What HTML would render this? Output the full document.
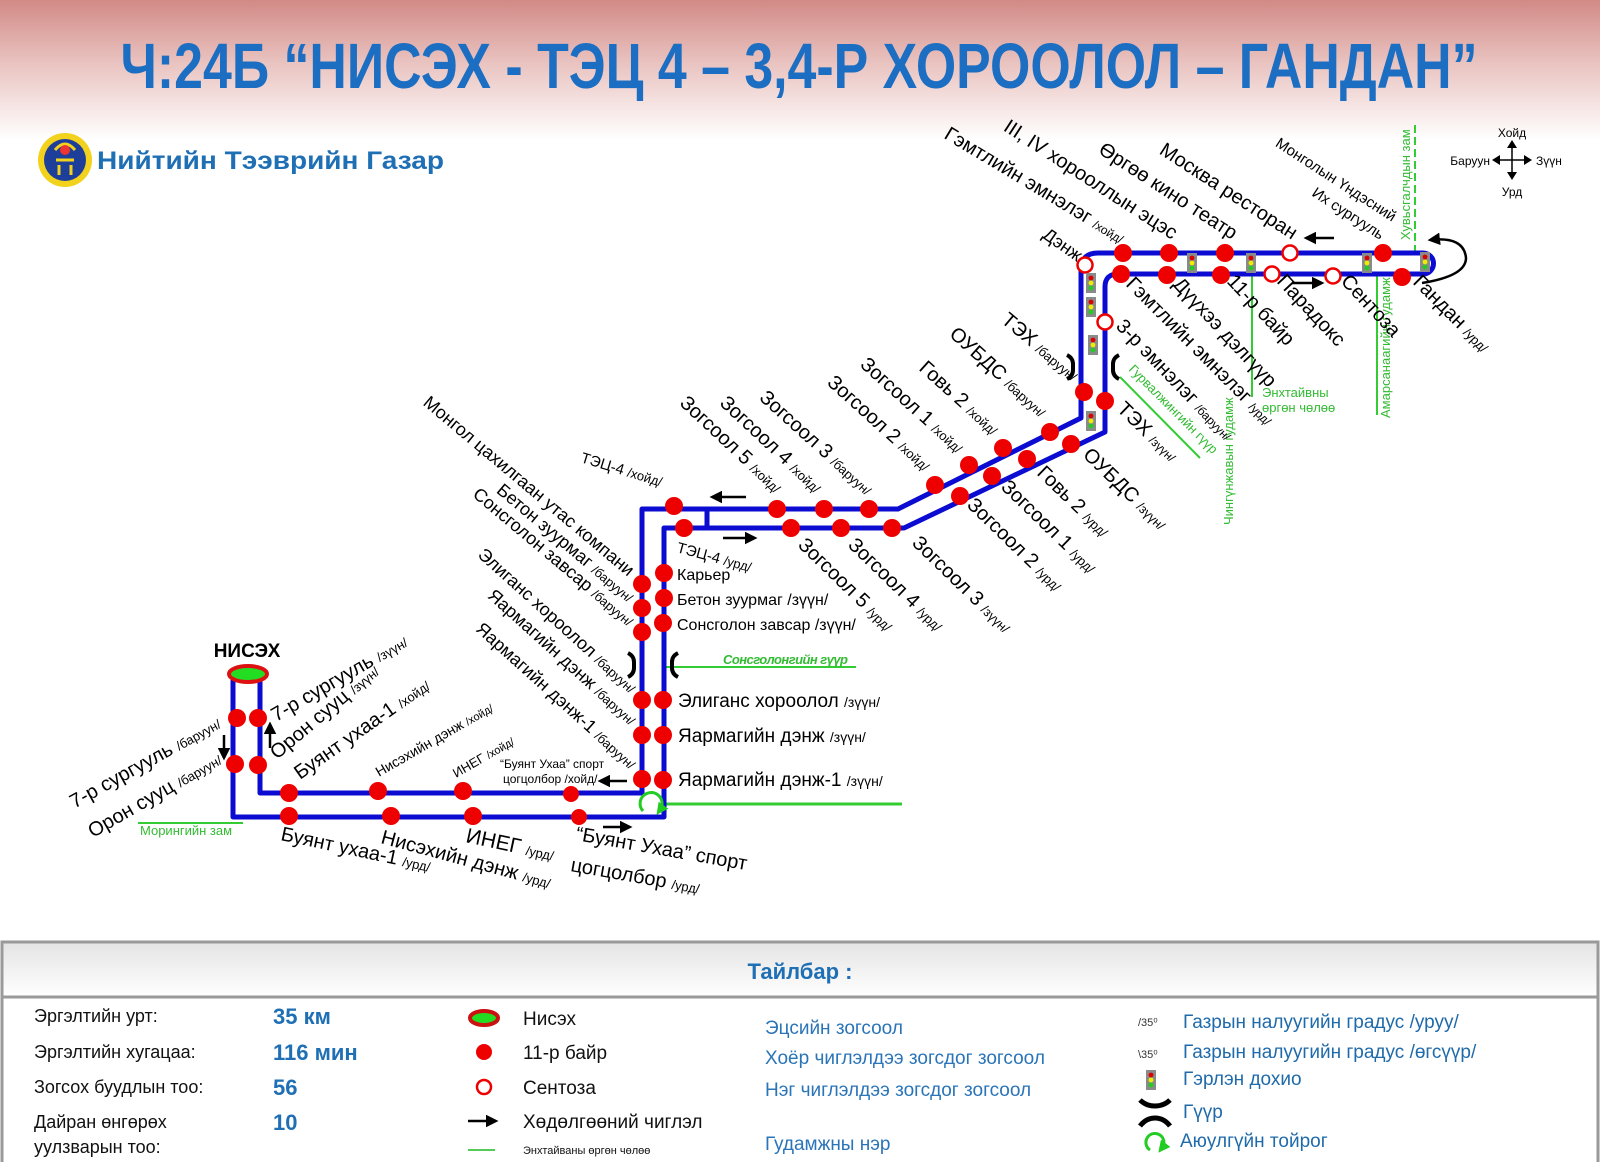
<!DOCTYPE html>
<html><head><meta charset="utf-8"><style>
html,body{margin:0;padding:0;background:#fff}
svg{display:block}
text{font-family:"Liberation Sans",Arial,sans-serif}
</style></head><body>
<svg width="1600" height="1162" viewBox="0 0 1600 1162" xmlns="http://www.w3.org/2000/svg">
<defs>
<linearGradient id="bg" x1="0" y1="0" x2="0" y2="1">
<stop offset="0" stop-color="#d28a86"/><stop offset="0.45" stop-color="#e9c3c0"/><stop offset="1" stop-color="#ffffff"/>
</linearGradient>
<linearGradient id="hd" x1="0" y1="0" x2="0" y2="1">
<stop offset="0" stop-color="#e4e4e4"/><stop offset="1" stop-color="#ffffff"/>
</linearGradient>
<marker id="ah" viewBox="0 0 10 10" refX="8" refY="5" markerWidth="5" markerHeight="5" orient="auto"><path d="M0,0 L10,5 L0,10 z" fill="#000"/></marker>
<marker id="ag" viewBox="0 0 10 10" refX="5" refY="5" markerWidth="4" markerHeight="4" orient="auto"><path d="M0,0 L10,5 L0,10 z" fill="#22cc22"/></marker>
<g id="tl"><rect x="-5" y="-10" width="10" height="20" fill="#8a8a8a"/><circle cy="-5" r="2.4" fill="#d00"/><circle cy="0" r="2.4" fill="#ee0"/><circle cy="5" r="2.4" fill="#2c2"/></g>
<g id="brL"><path d="M-9,-12 Q-3,-9 -3,-3 L-3,3 Q-3,9 -9,12" stroke="#000" stroke-width="4" fill="none"/></g>
<g id="brR"><path d="M9,-12 Q3,-9 3,-3 L3,3 Q3,9 9,12" stroke="#000" stroke-width="4" fill="none"/></g>
</defs>
<rect width="1600" height="140" fill="url(#bg)"/>
<text x="799" y="88" text-anchor="middle" font-size="64" font-weight="bold" fill="#1b6ec2" textLength="1357" lengthAdjust="spacingAndGlyphs">Ч:24Б “НИСЭХ - ТЭЦ 4 – 3,4-Р ХОРООЛОЛ – ГАНДАН”</text>
<!-- logo -->
<circle cx="65" cy="160" r="27" fill="#f2d21c"/><circle cx="65" cy="160" r="21" fill="#1d3f9a"/>
<path d="M55,150 Q65,138 75,150 M56,160 L74,160 M59,165 L59,175 M71,165 L71,175" stroke="#f2d21c" stroke-width="3" fill="none"/>
<circle cx="65" cy="150" r="5" fill="#e33"/>
<text x="97" y="169" font-size="25" font-weight="bold" fill="#1f6fb5" textLength="347" lengthAdjust="spacingAndGlyphs">Нийтийн Тээврийн Газар</text>
<!-- compass -->
<g stroke="#000" stroke-width="1.5" fill="#000">
<line x1="1512" y1="146" x2="1512" y2="174"/><line x1="1498" y1="160" x2="1526" y2="160"/>
<path d="M1512,140 l-5,8 h10z M1512,180 l-5,-8 h10z M1492,160 l8,-5 v10z M1532,160 l-8,-5 v10z" stroke="none"/>
</g>
<text x="1512" y="137" text-anchor="middle" font-size="12">Хойд</text>
<text x="1512" y="196" text-anchor="middle" font-size="12">Урд</text>
<text x="1490" y="165" text-anchor="end" font-size="12">Баруун</text>
<text x="1536" y="165" font-size="12">Зүүн</text>

<!-- green streets -->
<g stroke="#33cc33" stroke-width="2" fill="none">
<line x1="1415" y1="125" x2="1415" y2="252" stroke-dasharray="8,4"/>
<line x1="1377" y1="275" x2="1377" y2="415"/>
<line x1="1252" y1="275" x2="1252" y2="397"/>
<line x1="1120" y1="377" x2="1200" y2="458"/>
<line x1="663" y1="667" x2="856" y2="667"/>
<line x1="663" y1="804" x2="902" y2="804" stroke-width="3"/>
<line x1="138" y1="823" x2="243" y2="823"/>
</g>
<g fill="#33bb33" font-size="13">
<text transform="translate(1410,240) rotate(-90)">Хувьсгалчдын зам</text>
<text transform="translate(1390,418) rotate(-90)">Амарсанаагийн гудамж</text>
<text transform="translate(1233,525) rotate(-90)">Чингүнжавын гудамж</text>
<text x="1262" y="397" font-size="13">Энхтайвны</text>
<text x="1262" y="412" font-size="13">өргөн чөлөө</text>
<text transform="translate(1128,370) rotate(45)">Гурвалжингийн гүүр</text>
<text x="723" y="664" font-weight="bold" font-style="italic" textLength="125">Сонсголонгийн гүүр</text>
<text x="140" y="835">Морингийн зам</text>
</g>

<!-- route lines -->
<g stroke="#0b0bd2" stroke-width="5" fill="none" stroke-linejoin="round">
<path d="M260,680 L260,793 L642,793 L642,509 L898,509 L1081,418 L1081,270 Q1081,253 1098,253 L1423,253 A10.5,10.5 0 0 1 1423,274 L1118,274 Q1105,274 1105,287 L1105,432 L904,528 L664,528 L664,817 L233,817 L233,680"/>
<line x1="707" y1="509" x2="707" y2="528"/>
</g>

<!-- Nisekh terminal -->
<ellipse cx="248" cy="674" rx="19" ry="8" fill="#22dd22" stroke="#dd1111" stroke-width="4"/>
<text x="247" y="657" text-anchor="middle" font-size="19" font-weight="bold">НИСЭХ</text>

<!-- dots -->
<g fill="#ee0000">
<circle cx="1123" cy="253" r="9"/><circle cx="1169" cy="253" r="9"/><circle cx="1225" cy="253" r="9"/><circle cx="1383" cy="253" r="9"/>
<circle cx="1121" cy="274" r="9"/><circle cx="1167" cy="275" r="9"/><circle cx="1221" cy="275" r="9"/><circle cx="1402" cy="277" r="9"/>
<circle cx="1084" cy="392" r="9"/><circle cx="1105" cy="401" r="9"/>
<circle cx="1050" cy="432" r="9"/><circle cx="1003" cy="448" r="9"/><circle cx="969" cy="465" r="9"/><circle cx="935" cy="485" r="9"/>
<circle cx="1071" cy="444" r="9"/><circle cx="1027" cy="459" r="9"/><circle cx="992" cy="476" r="9"/><circle cx="960" cy="496" r="9"/>
<circle cx="869" cy="509" r="9"/><circle cx="824" cy="509" r="9"/><circle cx="777" cy="509" r="9"/><circle cx="674" cy="506" r="9"/>
<circle cx="892" cy="528" r="9"/><circle cx="841" cy="528" r="9"/><circle cx="791" cy="528" r="9"/><circle cx="684" cy="528" r="9"/>
<circle cx="642" cy="584" r="9"/><circle cx="642" cy="608" r="9"/><circle cx="642" cy="632" r="9"/>
<circle cx="664" cy="573" r="9"/><circle cx="664" cy="598" r="9"/><circle cx="663" cy="623" r="9"/>
<circle cx="642" cy="700" r="9"/><circle cx="642" cy="735" r="9"/><circle cx="642" cy="779" r="9"/>
<circle cx="663" cy="700" r="9"/><circle cx="663" cy="735" r="9"/><circle cx="663" cy="780" r="9"/>
<circle cx="289" cy="793" r="9"/><circle cx="378" cy="791" r="9"/><circle cx="463" cy="791" r="9"/><circle cx="571" cy="794" r="8"/>
<circle cx="289" cy="816" r="9"/><circle cx="391" cy="816" r="9"/><circle cx="473" cy="816" r="9"/><circle cx="579" cy="817" r="8"/>
<circle cx="237" cy="718" r="9"/><circle cx="258" cy="718" r="9"/><circle cx="235" cy="764" r="9"/><circle cx="258" cy="765" r="9"/>
</g>
<g fill="#fff" stroke="#ee0000" stroke-width="2.5">
<circle cx="1290" cy="253" r="7.5"/><circle cx="1272" cy="274" r="7.5"/><circle cx="1333" cy="276" r="7.5"/>
<circle cx="1085" cy="265" r="7.5"/><circle cx="1105" cy="322" r="7.5"/>
</g>
<!-- traffic lights -->
<use href="#tl" x="1192" y="263"/><use href="#tl" x="1251" y="263"/><use href="#tl" x="1367" y="263"/><use href="#tl" x="1425" y="262"/>
<use href="#tl" x="1091" y="283"/><use href="#tl" x="1091" y="307"/><use href="#tl" x="1093" y="345"/><use href="#tl" x="1091" y="421"/>
<!-- bridges -->
<use href="#brL" x="1076" y="367"/><use href="#brR" x="1110" y="367"/>
<use href="#brL" x="637" y="665"/><use href="#brR" x="669" y="665"/>
<!-- safety loop -->
<path d="M643,811 A11,11 0 1 1 660,810" stroke="#22cc22" stroke-width="3" fill="none" marker-end="url(#ag)"/>
<!-- arrows -->
<g stroke="#000" stroke-width="2.5" fill="none" marker-end="url(#ah)">
<line x1="1334" y1="238" x2="1306" y2="238"/>
<line x1="1292" y1="283" x2="1322" y2="283"/>
<line x1="746" y1="497" x2="712" y2="497"/>
<line x1="723" y1="538" x2="755" y2="538"/>
<line x1="627" y1="781" x2="600" y2="781"/>
<line x1="603" y1="827" x2="630" y2="827"/>
<line x1="224" y1="735" x2="224" y2="758"/>
<line x1="270" y1="748" x2="270" y2="724"/>
<path d="M1422,283 Q1466,276 1466,258 Q1464,236 1430,240"/>
</g>

<!-- labels: top row (above) -->
<g font-size="20" text-anchor="end">
<text transform="translate(1292,240) rotate(33)">Москва ресторан</text>
<text transform="translate(1232,240) rotate(33)">Өргөө кино театр</text>
<text transform="translate(1172,240) rotate(33)">III, IV хорооллын эцэс</text>
<text transform="translate(1120,244) rotate(31)">Гэмтлийн эмнэлэг <tspan font-size="12">/хойд/</tspan></text>
<text transform="translate(1077,262) rotate(35)" font-size="18">Дэнж</text>
<text transform="translate(1392,222) rotate(33)" font-size="15">Монголын Үндэсний</text>
<text transform="translate(1380,240) rotate(33)" font-size="15">Их сургууль</text>
</g>
<!-- bottom row (below) -->
<g font-size="20">
<text transform="translate(1125,285) rotate(45)">Гэмтлийн эмнэлэг <tspan font-size="12">/урд/</tspan></text>
<text transform="translate(1172,285) rotate(47)">Дүүхээ дэлгүүр</text>
<text transform="translate(1226,282) rotate(47)">11-р байр</text>
<text transform="translate(1276,282) rotate(47)">Парадокс</text>
<text transform="translate(1340,282) rotate(47)">Сентоза</text>
<text transform="translate(1412,283) rotate(45)">Гандан <tspan font-size="13">/урд/</tspan></text>
<text transform="translate(1115,327) rotate(46)">3-р эмнэлэг <tspan font-size="12">/баруун/</tspan></text>
<text transform="translate(1116,410) rotate(44)">ТЭХ <tspan font-size="12">/зүүн/</tspan></text>
<text transform="translate(1082,456) rotate(44)">ОУБДС <tspan font-size="13">/зүүн/</tspan></text>
<text transform="translate(1036,474) rotate(44)">Говь 2 <tspan font-size="13">/урд/</tspan></text>
<text transform="translate(1000,488) rotate(44)">Зогсоол 1 <tspan font-size="13">/урд/</tspan></text>
<text transform="translate(966,506) rotate(44)">Зогсоол 2 <tspan font-size="13">/урд/</tspan></text>
<text transform="translate(911,544) rotate(44)">Зогсоол 3 <tspan font-size="13">/зүүн/</tspan></text>
<text transform="translate(847,546) rotate(44)">Зогсоол 4 <tspan font-size="13">/урд/</tspan></text>
<text transform="translate(797,546) rotate(44)">Зогсоол 5 <tspan font-size="13">/урд/</tspan></text>
</g>
<!-- upper diagonal labels (above, end anchored) -->
<g font-size="20" text-anchor="end">
<text transform="translate(1072,382) rotate(40)">ТЭХ <tspan font-size="13">/баруун/</tspan></text>
<text transform="translate(1040,418) rotate(42)">ОУБДС <tspan font-size="13">/баруун/</tspan></text>
<text transform="translate(992,436) rotate(42)">Говь 2 <tspan font-size="13">/хойд/</tspan></text>
<text transform="translate(957,454) rotate(42)">Зогсоол 1 <tspan font-size="13">/хойд/</tspan></text>
<text transform="translate(924,472) rotate(42)">Зогсоол 2 <tspan font-size="13">/хойд/</tspan></text>
<text transform="translate(866,496) rotate(42)">Зогсоол 3 <tspan font-size="13">/баруун/</tspan></text>
<text transform="translate(815,494) rotate(43)">Зогсоол 4 <tspan font-size="13">/хойд/</tspan></text>
<text transform="translate(775,494) rotate(43)">Зогсоол 5 <tspan font-size="13">/хойд/</tspan></text>
</g>
<text transform="translate(580,462) rotate(17)" font-size="15">ТЭЦ-4 <tspan font-size="13">/хойд/</tspan></text>
<text transform="translate(676,552) rotate(15)" font-size="15">ТЭЦ-4 <tspan font-size="13">/урд/</tspan></text>
<!-- left column labels -->
<g font-size="18" text-anchor="end">
<text transform="translate(628,577) rotate(40)">Монгол цахилгаан утас компани</text>
<text transform="translate(628,603) rotate(40)">Бетон зуурмаг <tspan font-size="13">/баруун/</tspan></text>
<text transform="translate(628,627) rotate(40)">Сонсголон завсар <tspan font-size="13">/баруун/</tspan></text>
<text transform="translate(630,694) rotate(42)">Элиганс хороолол <tspan font-size="13">/баруун/</tspan></text>
<text transform="translate(630,726) rotate(42)">Яармагийн дэнж <tspan font-size="13">/баруун/</tspan></text>
<text transform="translate(630,770) rotate(42)">Яармагийн дэнж-1 <tspan font-size="13">/баруун/</tspan></text>
</g>
<g font-size="16">
<text x="677" y="580">Карьер</text>
<text x="677" y="605">Бетон зуурмаг /зүүн/</text>
<text x="677" y="630">Сонсголон завсар /зүүн/</text>
<text x="678" y="707" font-size="19">Элиганс хороолол <tspan font-size="14">/зүүн/</tspan></text>
<text x="678" y="742" font-size="19">Яармагийн дэнж <tspan font-size="14">/зүүн/</tspan></text>
<text x="678" y="786" font-size="19">Яармагийн дэнж-1 <tspan font-size="14">/зүүн/</tspan></text>
</g>
<!-- lower left labels -->
<g font-size="20">
<text transform="translate(222,727) rotate(-29)" text-anchor="end">7-р сургууль <tspan font-size="13">/баруун/</tspan></text>
<text transform="translate(223,763) rotate(-30)" text-anchor="end">Орон сууц <tspan font-size="13">/баруун/</tspan></text>
<text transform="translate(276,722) rotate(-30)">7-р сургууль <tspan font-size="13">/зүүн/</tspan></text>
<text transform="translate(277,760) rotate(-40)">Орон сууц <tspan font-size="13">/зүүн/</tspan></text>
<text transform="translate(300,780) rotate(-35)">Буянт ухаа-1 <tspan font-size="13">/хойд/</tspan></text>
<text transform="translate(379,777) rotate(-30)" font-size="14">Нисэхийн дэнж <tspan font-size="11">/хойд/</tspan></text>
<text transform="translate(456,778) rotate(-30)" font-size="13">ИНЕГ <tspan font-size="11">/хойд/</tspan></text>
<text x="500" y="768" font-size="12">“Буянт Ухаа” спорт</text>
<text x="503" y="783" font-size="12">цогцолбор /хойд/</text>
<text transform="translate(280,840) rotate(12)">Буянт ухаа-1 <tspan font-size="13">/урд/</tspan></text>
<text transform="translate(380,843) rotate(15)">Нисэхийн дэнж <tspan font-size="13">/урд/</tspan></text>
<text transform="translate(465,842) rotate(12)" font-size="21">ИНЕГ <tspan font-size="13">/урд/</tspan></text>
<text transform="translate(575,840) rotate(10)">“Буянт Ухаа” спорт</text>
<text transform="translate(570,871) rotate(10)">цогцолбор <tspan font-size="13">/урд/</tspan></text>
</g>

<!-- legend -->
<rect x="2" y="942" width="1596" height="222" fill="#fff" stroke="#9a9a9a" stroke-width="3"/>
<rect x="2" y="942" width="1596" height="55" fill="url(#hd)" stroke="#9a9a9a" stroke-width="3"/>
<text x="800" y="979" text-anchor="middle" font-size="22" font-weight="bold" fill="#1f6fb5">Тайлбар :</text>
<g font-size="18" fill="#111">
<text x="34" y="1022">Эргэлтийн урт:</text>
<text x="34" y="1058">Эргэлтийн хугацаа:</text>
<text x="34" y="1093">Зогсох буудлын тоо:</text>
<text x="34" y="1128">Дайран өнгөрөх</text>
<text x="34" y="1153">уулзварын тоо:</text>
</g>
<g font-size="22" font-weight="bold" fill="#1f6fb5">
<text x="273" y="1024">35 км</text>
<text x="273" y="1060">116 мин</text>
<text x="273" y="1095">56</text>
<text x="273" y="1130">10</text>
</g>
<ellipse cx="484" cy="1018" rx="14" ry="7" fill="#22dd22" stroke="#cc1111" stroke-width="4"/>
<circle cx="484" cy="1052" r="8" fill="#ee0000"/>
<circle cx="484" cy="1087" r="7" fill="#fff" stroke="#ee0000" stroke-width="2.5"/>
<line x1="468" y1="1121" x2="496" y2="1121" stroke="#000" stroke-width="2.5" marker-end="url(#ah)"/>
<line x1="468" y1="1150" x2="495" y2="1150" stroke="#55cc55" stroke-width="2"/>
<g font-size="19" fill="#111">
<text x="523" y="1025">Нисэх</text>
<text x="523" y="1059">11-р байр</text>
<text x="523" y="1094">Сентоза</text>
<text x="523" y="1128">Хөдөлгөөний чиглэл</text>
<text x="523" y="1154" font-size="11">Энхтайваны өргөн чөлөө</text>
</g>
<g font-size="19" fill="#2a74b8">
<text x="765" y="1034">Эцсийн зогсоол</text>
<text x="765" y="1064">Хоёр чиглэлдээ зогсдог зогсоол</text>
<text x="765" y="1096">Нэг чиглэлдээ зогсдог зогсоол</text>
<text x="765" y="1150">Гудамжны нэр</text>
</g>
<text x="1138" y="1026" font-size="11" fill="#333">/35⁰</text>
<text x="1138" y="1058" font-size="11" fill="#333">\35⁰</text>
<use href="#tl" x="1151" y="1080"/>
<g stroke="#000" stroke-width="5" fill="none">
<path d="M1140,1100 Q1146,1106 1155,1106 Q1164,1106 1170,1100"/>
<path d="M1140,1126 Q1146,1118 1155,1118 Q1164,1118 1170,1126"/>
</g>
<path d="M1150,1150 A9,9 0 1 1 1162,1148" stroke="#22cc22" stroke-width="3" fill="none" marker-end="url(#ag)"/>
<g font-size="19" fill="#1f6aaa">
<text x="1183" y="1028">Газрын налуугийн градус /уруу/</text>
<text x="1183" y="1058">Газрын налуугийн градус /өгсүүр/</text>
<text x="1183" y="1085">Гэрлэн дохио</text>
<text x="1183" y="1118">Гүүр</text>
<text x="1180" y="1147">Аюулгүйн тойрог</text>
</g>
</svg>
</body></html>
